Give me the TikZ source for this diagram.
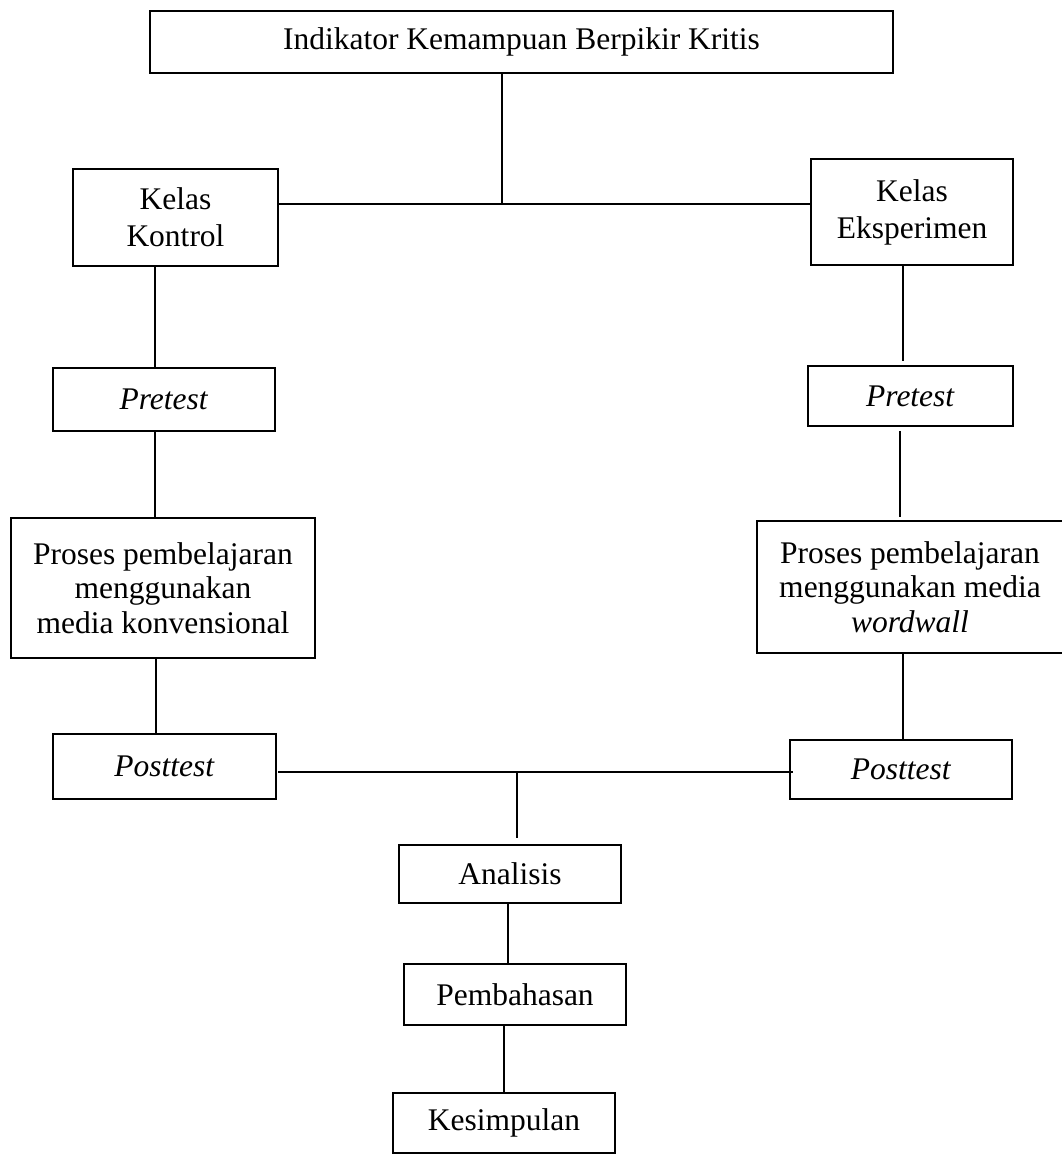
\documentclass[tikz,border=0pt]{standalone}
\usepackage{fontspec}
\setmainfont{Liberation Serif}
\begin{document}
\begin{tikzpicture}[x=1pt,y=-1pt]
\tikzset{
  box/.style={draw, line width=1.8pt, inner sep=0pt, align=center,
    font=\fontsize{31.5}{37}\selectfont},
  prose/.style={font=\fontsize{31.5}{34.5}\selectfont},
  link/.style={line width=1.5pt},
}
\useasboundingbox (0,0) rectangle (1061,1155);
% boxes
\node[box, minimum width=743pt, minimum height=62pt] (top) at (521.5,42) {Indikator Kemampuan Berpikir Kritis};
\node[box, minimum width=205pt, minimum height=97pt] (kk) at (175.5,217.5) {Kelas\\Kontrol};
\node[box, minimum width=202pt, minimum height=106pt] (ke) at (912,212) {Kelas\\Eksperimen};
\node[box, minimum width=222pt, minimum height=63pt] (preL) at (164,399.5) {\textit{Pretest}};
\node[box, minimum width=205pt, minimum height=60pt] (preR) at (910.5,396) {\textit{Pretest}};
\node[box, prose, minimum width=304pt, minimum height=140pt] (prL) at (163,588) {Proses pembelajaran\\menggunakan\\media konvensional};
\node[box, prose, minimum width=306pt, minimum height=132pt] (prR) at (910,587) {Proses pembelajaran\\menggunakan media\\\textit{wordwall}};
\node[box, minimum width=223pt, minimum height=65pt] (poL) at (164.5,766.5) {\textit{Posttest}};
\node[box, minimum width=222pt, minimum height=59pt] (poR) at (901,769.5) {\textit{Posttest}};
\node[box, minimum width=222pt, minimum height=58pt] (an) at (510,874) {Analisis};
\node[box, minimum width=222pt, minimum height=61pt] (pb) at (515,994.5) {Pembahasan};
\node[box, minimum width=222pt, minimum height=60pt] (ks) at (504,1123) {Kesimpulan};
% junctions and column guides
\coordinate (j1) at (502,204);
\coordinate (j2) at (517,772);
\coordinate (cL1) at (155,0);
\coordinate (cL2) at (155,0);
\coordinate (cL3) at (156,0);
\coordinate (cR1) at (903,0);
\coordinate (cR2) at (900,0);
\coordinate (cR3) at (903,0);
\coordinate (cM1) at (508,0);
\coordinate (cM2) at (504,0);
% connectors
\draw[link] (top.south -| j1) -- (j1);
\draw[link] (kk.east |- j1) -- (ke.west |- j1);
\draw[link] (kk.south -| cL1) -- (preL.north -| cL1);
\draw[link] (preL.south -| cL2) -- (prL.north -| cL2);
\draw[link] (prL.south -| cL3) -- (poL.north -| cL3);
\draw[link, shorten >=4pt] (ke.south -| cR1) -- (preR.north -| cR1);
\draw[link, shorten <=4pt, shorten >=3pt] (preR.south -| cR2) -- (prR.north -| cR2);
\draw[link] (prR.south -| cR3) -- (poR.north -| cR3);
\draw[link, shorten <=1.5pt] (poL.east |- j2) -- ([xshift=4pt]poR.west |- j2);
\draw[link, shorten >=6pt] (j2) -- (an.north -| j2);
\draw[link] (an.south -| cM1) -- (pb.north -| cM1);
\draw[link] (pb.south -| cM2) -- (ks.north -| cM2);
\end{tikzpicture}
\end{document}
